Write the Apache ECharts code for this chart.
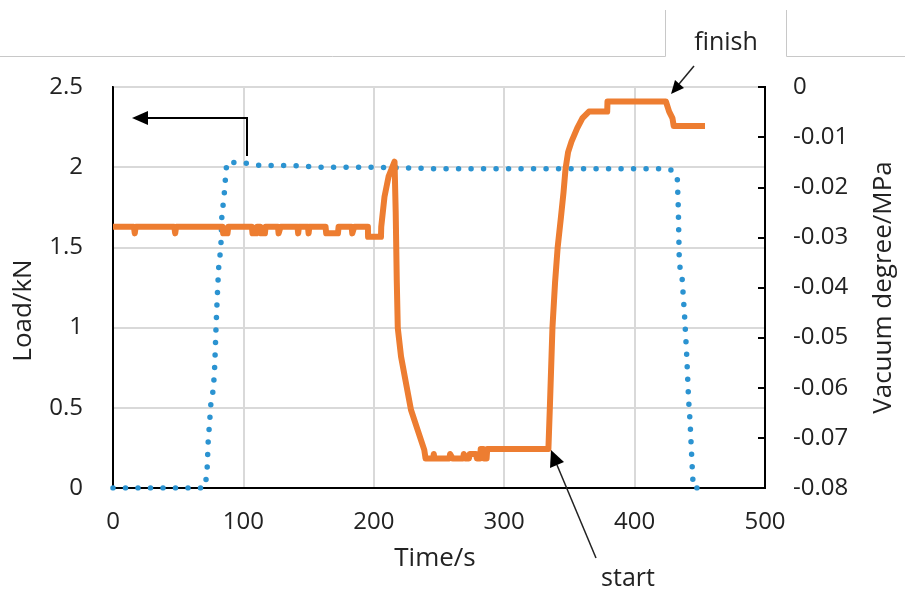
<!DOCTYPE html>
<html>
<head>
<meta charset="utf-8">
<script src="https://cdn.jsdelivr.net/npm/echarts@6/dist/echarts.min.js"></script>
<style>
  html, body { margin: 0; padding: 0; background: #fff; }
  #main { width: 905px; height: 590px; }
</style>
</head>
<body>
<div id="main"></div>
<script>
// load (left axis), dotted blue
var loadTime = [0, 70, 72, 73, 74, 75, 77, 78, 79, 80, 81, 82.7, 83.5, 84.5, 85.5, 86.5, 87.3, 97, 114, 140, 160, 200, 250, 300, 350, 400, 424, 429, 432.7, 433.5, 434.3, 436.5, 438.5, 440, 441.4, 442.5, 444, 445, 451];
var load     = [0, 0, 0.08, 0.29, 0.40, 0.52, 0.62, 0.76, 1.0, 1.2, 1.37, 1.50, 1.70, 1.77, 1.85, 1.96, 2.03, 2.03, 2.01, 2.01, 2.0, 2.0, 1.99, 1.99, 1.99, 1.99, 1.99, 1.98, 1.94, 1.75, 1.40, 1.30, 1.05, 0.82, 0.55, 0.42, 0.16, 0, 0];

// vacuum degree (right axis), orange
var vacTime = [0, 16, 16.7, 17.4, 47, 47.7, 48.4, 84, 84.5, 87.8, 88.4, 106.5, 107, 110, 110.5, 113, 113.5, 116.5, 117,
  126.5, 127, 128, 128.5, 141.5, 142, 142.6, 149.5, 150, 150.6, 163, 163.5, 172.5, 173, 183, 183.5, 184.5, 185,
  195.5, 195.6, 205.5, 205.7, 208.2, 211.3, 215.9, 216.8, 217.6, 218.4, 220.9, 224.7, 228.5, 233.6, 238.7, 239.7,
  245.5, 246, 246.5, 258, 258.5, 260, 260.5, 268.5, 269, 270, 273, 273.5, 278.5, 279, 281.5, 282, 284, 284.5, 286.5, 287,
  333.9, 335, 337, 339, 341, 343.5, 345.5, 347, 349, 351.6, 356, 360, 365, 379, 379.2, 424, 426.5, 429, 430, 454];
var vacuum = [-0.0279, -0.0279, -0.0292, -0.0279, -0.0279, -0.0292, -0.0279, -0.0279, -0.0292, -0.0292, -0.0279, -0.0279, -0.0292, -0.0292, -0.0279, -0.0279, -0.0292, -0.0292, -0.0279,
  -0.0279, -0.0292, -0.0292, -0.0279, -0.0279, -0.0292, -0.0279, -0.0279, -0.0292, -0.0279, -0.0279, -0.0292, -0.0292, -0.0279, -0.0279, -0.0292, -0.0292, -0.0279,
  -0.0279, -0.0299, -0.0299, -0.0279, -0.0219, -0.0179, -0.0149, -0.025, -0.0385, -0.0481, -0.0538, -0.0591, -0.0644, -0.0684, -0.0724, -0.0741,
  -0.0741, -0.0732, -0.0741, -0.0741, -0.0732, -0.0732, -0.0741, -0.0741, -0.0732, -0.0741, -0.0741, -0.0732, -0.0732, -0.0741, -0.0741, -0.0722, -0.0722, -0.0741, -0.0741, -0.0722,
  -0.0722, -0.064, -0.048, -0.039, -0.032, -0.026, -0.021, -0.0164, -0.013, -0.0109, -0.0082, -0.0062, -0.0049, -0.0049, -0.0029, -0.0029, -0.0049, -0.0062, -0.0078, -0.0078];

var loadTicks = { min: 0, max: 2.5, interval: 0.5 };
var vacTicks = { min: -0.08, max: 0, interval: 0.01 };

function pairs(xs, ys) {
  var out = [];
  for (var i = 0; i < xs.length; i++) out.push([xs[i], ys[i]]);
  return out;
}

var font = '"Open Sans", "Noto Sans", sans-serif';
var txt = '#222';

var chart = echarts.init(document.getElementById('main'), null, { renderer: 'canvas' });
chart.setOption({
  animation: false,
  textStyle: { fontFamily: font },
  grid: { left: 113, right: 135, top: 87, bottom: 102, show: true, borderColor: '#000', borderWidth: 2, backgroundColor: 'transparent' },
  xAxis: {
    type: 'value', min: 0, max: 500, interval: 100,
    name: 'Time/s', nameLocation: 'middle', nameGap: 58,
    nameTextStyle: { fontSize: 26, color: txt, fontFamily: font, padding: [0, 8, 0, 0] },
    axisLine: { show: true, lineStyle: { color: '#000', width: 2 } },
    axisTick: { show: false },
    axisLabel: { fontSize: 24, color: txt, margin: 22, fontFamily: font },
    splitLine: { show: true, lineStyle: { color: '#d9d9d9', width: 2 } }
  },
  yAxis: [{
    type: 'value', min: loadTicks.min, max: loadTicks.max, interval: loadTicks.interval, position: 'left',
    name: 'Load/kN', nameLocation: 'middle', nameGap: 76,
    nameTextStyle: { fontSize: 26, color: txt, fontFamily: font, padding: [0, 46, 0, 0] },
    axisLine: { show: true, lineStyle: { color: '#000', width: 2 } },
    axisTick: { show: false },
    axisLabel: { fontSize: 24, color: txt, margin: 30, fontFamily: font },
    splitLine: { show: true, lineStyle: { color: '#d9d9d9', width: 2 } }
  }, {
    type: 'value', min: vacTicks.min, max: vacTicks.max, interval: vacTicks.interval, position: 'right',
    name: 'Vacuum degree/MPa', nameLocation: 'middle', nameGap: 106,
    nameTextStyle: { fontSize: 26, color: txt, fontFamily: font },
    axisLine: { show: true, lineStyle: { color: '#000', width: 2 } },
    axisTick: { show: true, inside: true, length: 7, lineStyle: { color: '#000', width: 2 } },
    axisLabel: {
      fontSize: 24, color: txt, margin: 28, fontFamily: font,
      formatter: function (v) { return Math.abs(v) < 1e-9 ? '0' : v.toFixed(2); }
    },
    splitLine: { show: false }
  }],
  series: [{
    name: 'Load', type: 'line', yAxisIndex: 0,
    data: pairs(loadTime, load),
    showSymbol: false,
    lineStyle: { color: '#2b93d1', width: 5.5, type: [0, 12.5], cap: 'round' },
    z: 3
  }, {
    name: 'Vacuum degree', type: 'line', yAxisIndex: 1,
    data: pairs(vacTime, vacuum),
    showSymbol: false,
    lineStyle: { color: '#ed7d31', width: 6, join: 'round', cap: 'butt' },
    z: 4
  }],
  graphic: [
    // light cell borders along the top
    { type: 'line', shape: { x1: 0, y1: 56.5, x2: 665.5, y2: 56.5 }, style: { stroke: '#c8c8c8', lineWidth: 1 } },
    { type: 'line', shape: { x1: 665.5, y1: 10, x2: 665.5, y2: 56.5 }, style: { stroke: '#c8c8c8', lineWidth: 1 } },
    { type: 'line', shape: { x1: 786.5, y1: 10, x2: 786.5, y2: 56.5 }, style: { stroke: '#c8c8c8', lineWidth: 1 } },
    { type: 'line', shape: { x1: 786.5, y1: 56.5, x2: 905, y2: 56.5 }, style: { stroke: '#c8c8c8', lineWidth: 1 } },
    // arrow to the left axis
    { type: 'polyline', shape: { points: [[247, 156], [247, 118], [145, 118]] }, style: { stroke: '#000', lineWidth: 2, fill: null }, z: 10 },
    { type: 'polygon', shape: { points: [[132, 118], [148, 111], [148, 125]] }, style: { fill: '#000' }, z: 10 },
    // finish
    { type: 'text', x: 726, y: 43, style: { text: 'finish', fontSize: 25, fontFamily: font, fill: txt, align: 'center', verticalAlign: 'middle' }, z: 10 },
    { type: 'line', shape: { x1: 694, y1: 66, x2: 679, y2: 84 }, style: { stroke: '#222', lineWidth: 1.5 }, z: 10 },
    { type: 'polygon', shape: { points: [[671, 94], [684, 88], [675, 80]] }, style: { fill: '#000' }, z: 10 },
    // start
    { type: 'text', x: 628, y: 579, style: { text: 'start', fontSize: 25, fontFamily: font, fill: txt, align: 'center', verticalAlign: 'middle' }, z: 10 },
    { type: 'line', shape: { x1: 596, y1: 558, x2: 557, y2: 465 }, style: { stroke: '#222', lineWidth: 1.5 }, z: 10 },
    { type: 'polygon', shape: { points: [[551, 450], [564, 462], [550, 468]] }, style: { fill: '#000' }, z: 10 }
  ]
});
</script>
</body>
</html>
